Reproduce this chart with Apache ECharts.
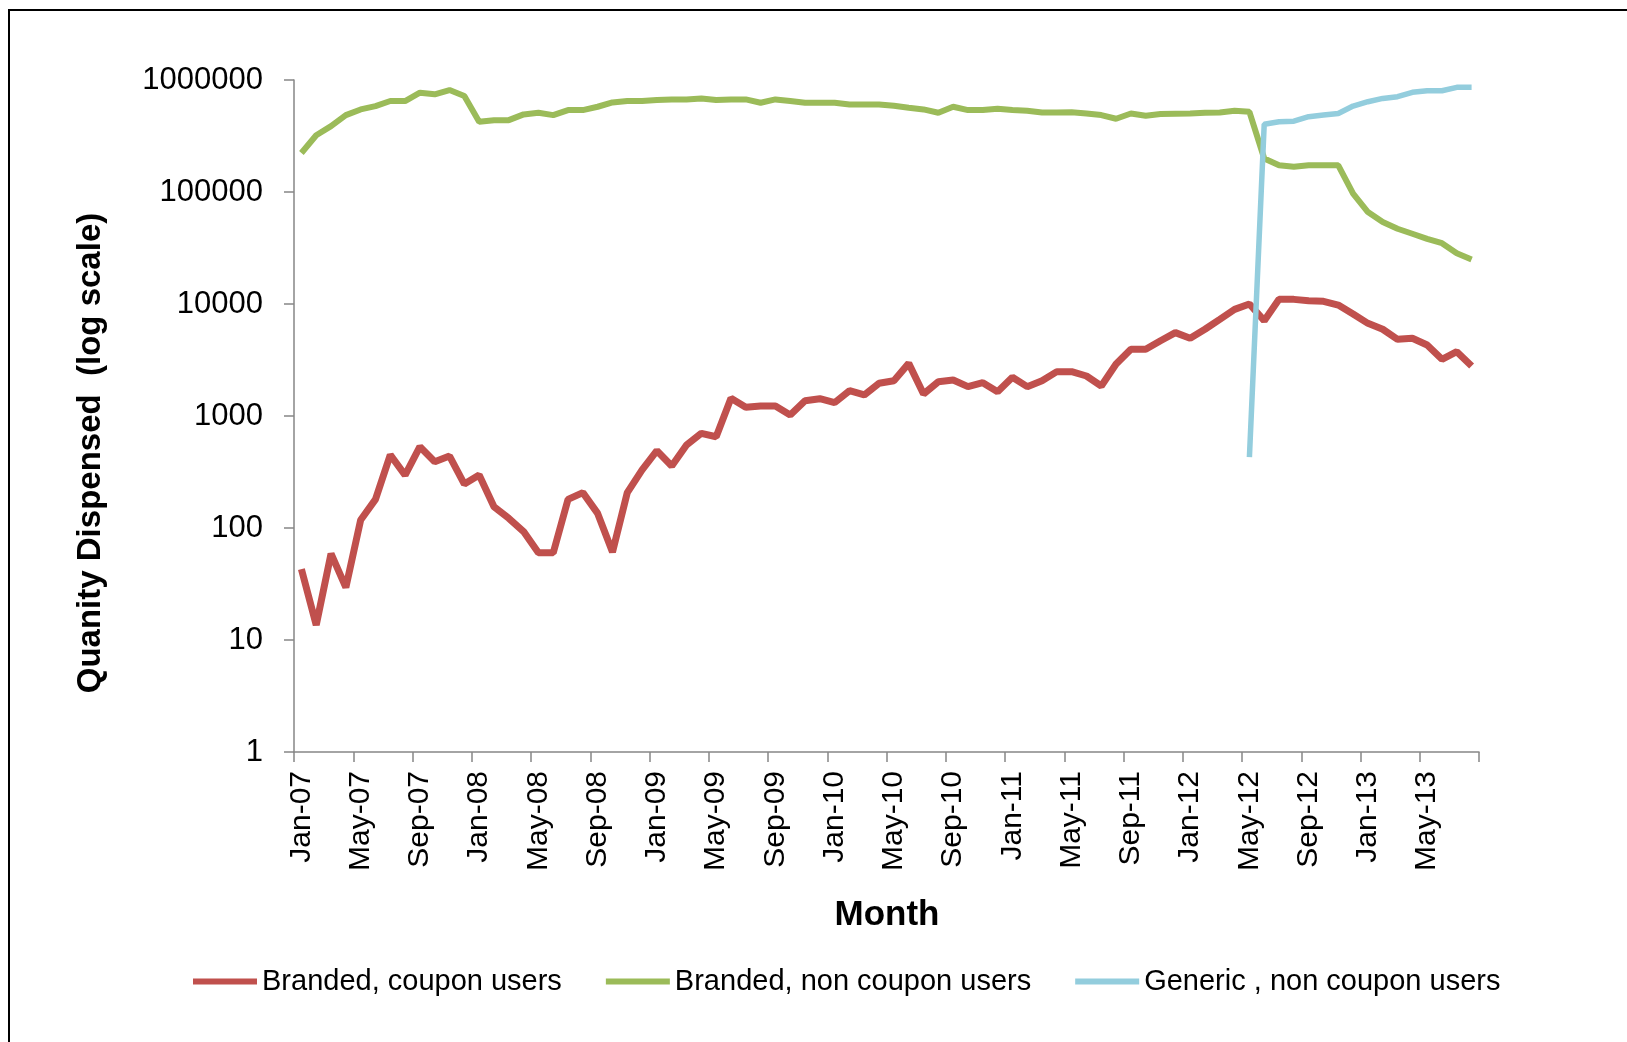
<!DOCTYPE html>
<html>
<head>
<meta charset="utf-8">
<title>Quantity dispensed</title>
<script src="https://cdn.jsdelivr.net/npm/echarts@6/dist/echarts.min.js"></script>
<style>
  html, body { margin: 0; padding: 0; background: #fff; }
  #main { width: 1627px; height: 1042px; }
</style>
</head>
<body>
<div id="main"></div>
<script>
// months Jan-07 .. Aug-13
const months = [
  'Jan-07','Feb-07','Mar-07','Apr-07','May-07','Jun-07','Jul-07','Aug-07','Sep-07','Oct-07','Nov-07','Dec-07',
  'Jan-08','Feb-08','Mar-08','Apr-08','May-08','Jun-08','Jul-08','Aug-08','Sep-08','Oct-08','Nov-08','Dec-08',
  'Jan-09','Feb-09','Mar-09','Apr-09','May-09','Jun-09','Jul-09','Aug-09','Sep-09','Oct-09','Nov-09','Dec-09',
  'Jan-10','Feb-10','Mar-10','Apr-10','May-10','Jun-10','Jul-10','Aug-10','Sep-10','Oct-10','Nov-10','Dec-10',
  'Jan-11','Feb-11','Mar-11','Apr-11','May-11','Jun-11','Jul-11','Aug-11','Sep-11','Oct-11','Nov-11','Dec-11',
  'Jan-12','Feb-12','Mar-12','Apr-12','May-12','Jun-12','Jul-12','Aug-12','Sep-12','Oct-12','Nov-12','Dec-12',
  'Jan-13','Feb-13','Mar-13','Apr-13','May-13','Jun-13','Jul-13','Aug-13'
];

const brandedCoupon = [
  43, 13.6, 59, 29.5, 118, 180, 449, 297, 532, 391, 439, 247, 297, 155, 122, 93, 60, 60, 180, 207,
  135, 61, 207, 330, 490, 358, 551, 700, 653, 1440, 1195, 1228, 1228, 1020, 1370, 1428, 1316, 1683, 1541, 1960,
  2065, 2950, 1570, 2024, 2094, 1828, 1985, 1648, 2215, 1828, 2065, 2490, 2490, 2276, 1853, 2912, 3940, 3940, 4700, 5550,
  4940, 5950, 7300, 8960, 10000, 7100, 11000, 11000, 10700, 10560, 9790, 8150, 6720, 5950, 4840, 4940, 4300, 3210, 3750, 2793
];

const brandedNonCoupon = [
  223000, 321000, 387000, 486000, 546000, 585000, 649000, 649000, 770000, 745000,
  813000, 719000, 424000, 438000, 438000, 493000, 510000, 486000, 539000, 539000,
  577000, 631000, 649000, 649000, 662000, 671000, 671000, 685000, 662000, 671000,
  671000, 627000, 671000, 649000, 627000, 627000, 627000, 605000, 605000, 605000,
  589000, 565000, 546000, 510000, 577000, 539000, 539000, 553000, 539000, 531000,
  513000, 513000, 516000, 502000, 486000, 451000, 502000, 480000, 497000, 500000,
  502000, 510000, 513000, 531000, 520000, 199000, 173000, 168000, 173000, 173000,
  173000, 96600, 66200, 53900, 47000, 42400, 38200, 34900, 28400, 25000
];

// generic only exists from May-12 on
const genericStart = 'May-12';
const genericNonCoupon = [
  430, 403000, 424000, 429000, 470000, 486000, 502000, 585000,
  640000, 685000, 710000, 776000, 802000, 802000, 860000, 860000
];

const yTicks = [1, 10, 100, 1000, 10000, 100000, 1000000];

const seriesNames = ['Branded, coupon users', 'Branded, non coupon users', 'Generic , non coupon users'];
const seriesColors = ['#C0504D', '#9BBB59', '#93CDDD'];

const font = 'Liberation Sans';
const axisGrey = '#868686';

let genericData = months.map(() => null);
let g0 = months.indexOf(genericStart);
genericNonCoupon.forEach((v, i) => { genericData[g0 + i] = v; });

const chart = echarts.init(document.getElementById('main'));

chart.setOption({
  animation: false,
  backgroundColor: '#fff',
  textStyle: { fontFamily: font },
  grid: { left: 294, right: 148, top: 80, bottom: 290 },
  legend: {
    left: 188,
    top: 962,
    icon: 'rect',
    itemWidth: 64,
    itemHeight: 6,
    itemGap: 44,
    textStyle: { fontSize: 29, color: '#000', fontFamily: font },
    data: seriesNames
  },
  xAxis: {
    type: 'category',
    boundaryGap: true,
    data: months,
    axisLine: { show: true, lineStyle: { color: axisGrey, width: 1.5 } },
    axisTick: { show: true, interval: 3, length: 10, lineStyle: { color: axisGrey, width: 1.5 } },
    axisLabel: { interval: 3, rotate: 90, margin: 19, fontSize: 30, color: '#000', fontFamily: font },
    splitLine: { show: false }
  },
  yAxis: {
    type: 'log',
    logBase: 10,
    min: yTicks[0],
    max: yTicks[yTicks.length - 1],
    axisLine: { show: true, lineStyle: { color: axisGrey, width: 1.5 } },
    axisTick: { show: true, length: 10, lineStyle: { color: axisGrey, width: 1.5 } },
    axisLabel: {
      margin: 31,
      fontSize: 31,
      color: '#000',
      fontFamily: font,
      formatter: (v) => String(Math.round(v))
    },
    splitLine: { show: false }
  },
  graphic: [
    {
      type: 'rect',
      silent: true,
      shape: { x: 9, y: 10, width: 1700, height: 1100 },
      style: { fill: 'none', stroke: '#000', lineWidth: 2 }
    },
    {
      type: 'text',
      silent: true,
      x: 91,
      y: 453,
      rotation: Math.PI / 2,
      style: {
        text: 'Quanity Dispensed  (log scale)',
        font: 'bold 33px "Liberation Sans"',
        fill: '#000',
        align: 'center',
        verticalAlign: 'middle'
      }
    },
    {
      type: 'text',
      silent: true,
      x: 887,
      y: 915,
      style: {
        text: 'Month',
        font: 'bold 35px "Liberation Sans"',
        fill: '#000',
        align: 'center',
        verticalAlign: 'middle'
      }
    }
  ],
  series: [
    {
      name: seriesNames[0],
      type: 'line',
      data: brandedCoupon,
      symbol: 'none',
      color: seriesColors[0],
      lineStyle: { width: 7, color: seriesColors[0] },
      emphasis: { disabled: true }
    },
    {
      name: seriesNames[1],
      type: 'line',
      data: brandedNonCoupon,
      symbol: 'none',
      color: seriesColors[1],
      lineStyle: { width: 6, color: seriesColors[1] },
      emphasis: { disabled: true }
    },
    {
      name: seriesNames[2],
      type: 'line',
      data: genericData,
      symbol: 'none',
      connectNulls: false,
      color: seriesColors[2],
      lineStyle: { width: 5.5, color: seriesColors[2] },
      emphasis: { disabled: true }
    }
  ]
});
</script>
</body>
</html>
